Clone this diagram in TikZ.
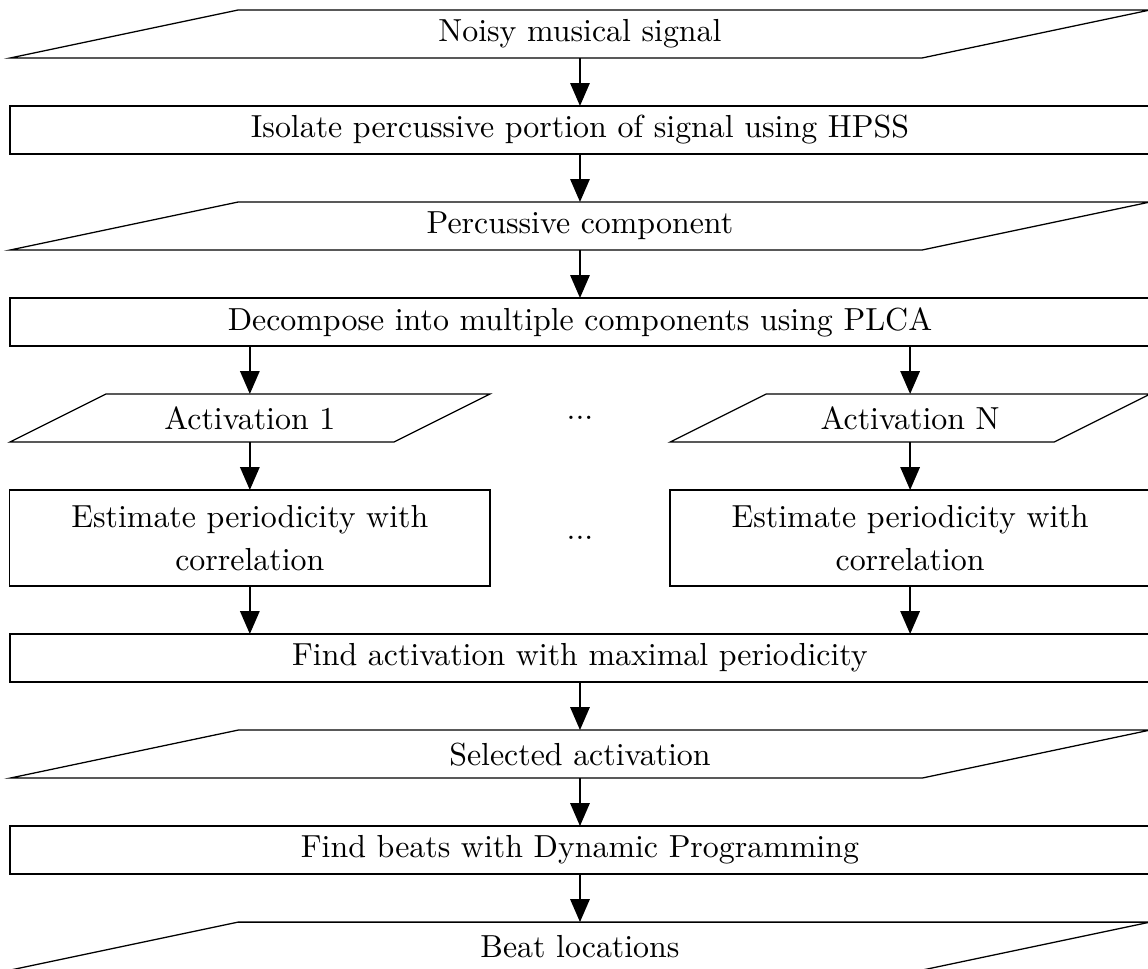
\documentclass[tikz,border=0pt]{standalone}
\usetikzlibrary{positioning,arrows.meta}

\begin{document}
\begin{tikzpicture}[
   node distance=15.05pt,
   every node/.style={outer sep=0pt},
   box/.style={rectangle, draw, minimum width=357.4pt, minimum height=15.05pt, inner sep=0pt},
   io/.style={rectangle, minimum width=357.4pt, minimum height=15.05pt, inner sep=0pt},
   half/.style={minimum width=150.5pt},
   flow/.style={-{Triangle[length=7.2pt,width=6pt]}, thick}
]
   \useasboundingbox (-181.83pt,10.66pt) rectangle (178.07pt,-292.81pt);

   % Main chain
   \node[io] (noisy) at (0,0) {Noisy musical signal};
   \node[box, below=of noisy] (hpss) {Isolate percussive portion of signal using HPSS};
   \node[io, below=of hpss] (perc) {Percussive component};
   \node[box, below=of perc] (plca) {Decompose into multiple components using PLCA};

   % Two branches
   \node[io, half, below=of plca, xshift=-103.5pt] (act1) {Activation 1};
   \node[io, half, below=of plca, xshift=103.5pt] (actN) {Activation N};
   \node (dots1) at (act1 -| plca) {...};
   \node[box, half, minimum height=30.1pt, align=center, below=of act1] (est1) {Estimate periodicity with\\[1.2pt]correlation};
   \node[box, half, minimum height=30.1pt, align=center, below=of actN] (estN) {Estimate periodicity with\\[1.2pt]correlation};
   \node (dots2) at (est1 -| plca) {...};

   % Back to one chain
   \node[box, below=of est1, xshift=103.5pt] (maxper) {Find activation with maximal periodicity};
   \node[io, below=of maxper] (sel) {Selected activation};
   \node[box, below=of sel] (dp) {Find beats with Dynamic Programming};
   \node[io, below=of dp] (beats) {Beat locations};

   % Slanted input/output shapes
   \foreach \n/\s in {noisy/71.5pt, perc/71.5pt, act1/30.1pt, actN/30.1pt, sel/71.5pt, beats/71.5pt} {
      \draw (\n.south west) -- ([xshift=\s]\n.north west) -- (\n.north east) -- ([xshift=-\s]\n.south east) -- cycle;
   }

   % Arrows
   \draw[flow] (noisy) -- (hpss);
   \draw[flow] (hpss) -- (perc);
   \draw[flow] (perc) -- (plca);
   \draw[flow] (act1 |- plca.south) -- (act1);
   \draw[flow] (actN |- plca.south) -- (actN);
   \draw[flow] (act1) -- (est1);
   \draw[flow] (actN) -- (estN);
   \draw[flow] (est1) -- (est1 |- maxper.north);
   \draw[flow] (estN) -- (estN |- maxper.north);
   \draw[flow] (maxper) -- (sel);
   \draw[flow] (sel) -- (dp);
   \draw[flow] (dp) -- (beats);
\end{tikzpicture}
\end{document}
